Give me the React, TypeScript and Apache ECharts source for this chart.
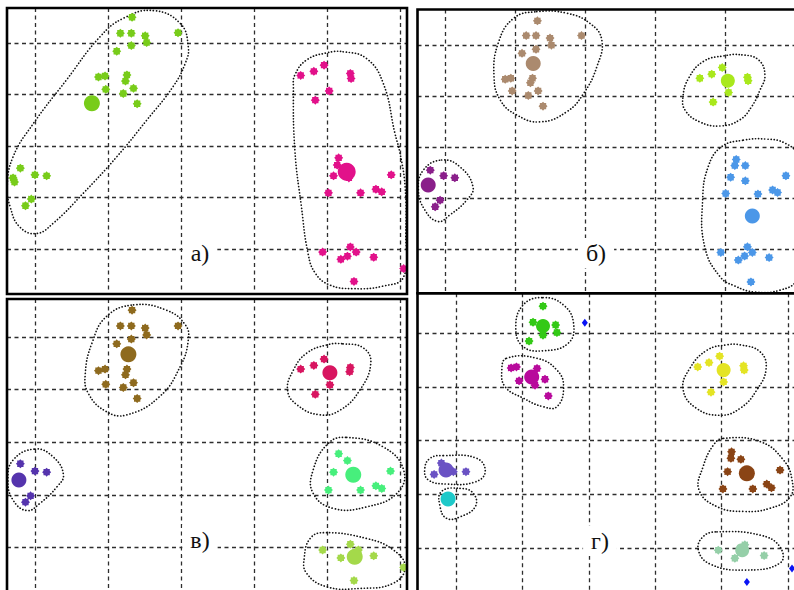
import React, { useEffect, useRef } from 'react';
import * as echarts from 'echarts';

// ---------- Panel а) ----------
const aGreen = [[1.32,-0.50],[1.16,-0.19],[1.31,-0.19],[1.50,-0.14],[1.52,-0.01],[1.95,-0.20],[1.31,0.05],[1.11,0.16],[0.86,0.66],[0.95,0.64],[1.25,0.62],[1.23,0.74],[0.96,0.90],[1.34,0.88],[1.20,0.98],[1.39,1.18],[-0.21,2.43],[-0.31,2.62],[-0.29,2.70],[-0.01,2.56],[0.15,2.58],[-0.06,3.03],[-0.14,3.16]];
const aGreenCentre = [[0.77,1.17]];
const aGreenHull = [[1.61,-0.63],[1.98,-0.38],[2.09,0.07],[2.05,0.39],[1.88,0.85],[1.52,1.50],[1.11,2.21],[0.65,2.92],[0.24,3.50],[0.01,3.70],[-0.22,3.57],[-0.35,3.18],[-0.39,2.79],[-0.31,2.21],[-0.03,1.56],[0.42,0.72],[0.88,-0.12],[1.20,-0.48]];
const aPink = [[3.63,0.63],[3.81,0.55],[3.95,0.43],[4.31,0.59],[4.32,0.69],[4.02,0.93],[3.83,1.11],[4.15,2.23],[4.13,2.37],[4.20,2.47],[4.29,2.62],[4.08,2.58],[4.87,2.56],[4.01,2.91],[4.45,2.91],[4.66,2.84],[4.74,2.89],[3.93,4.06],[4.31,3.96],[4.39,4.06],[4.27,4.14],[4.18,4.20],[4.63,4.16],[4.36,4.63],[5.04,4.38]];
const aPinkCentre = [[4.26,2.50]];
const aPinkHull = [[4.21,0.17],[4.53,0.30],[4.76,0.78],[4.92,1.75],[4.99,2.14],[5.06,2.79],[5.07,3.70],[5.04,4.54],[4.76,4.72],[4.35,4.77],[4.03,4.70],[3.83,4.47],[3.73,4.08],[3.64,3.18],[3.55,2.08],[3.53,0.85],[3.55,0.62],[3.71,0.33],[3.99,0.19]];

// ---------- Panel б) ----------
const bTan = [[1.32,-0.49],[1.16,-0.20],[1.30,-0.20],[1.50,-0.15],[1.52,-0.01],[1.95,-0.20],[1.30,0.07],[1.10,0.15],[0.86,0.66],[0.94,0.64],[1.25,0.64],[1.22,0.73],[0.96,0.89],[1.33,0.89],[1.19,0.98],[1.40,1.19]];
const bTanCentre = [[1.26,0.35]];
const bTanHull = [[1.31,-0.67],[1.74,-0.64],[2.07,-0.44],[2.24,-0.11],[2.17,0.41],[1.98,0.94],[1.74,1.30],[1.36,1.50],[1.02,1.36],[0.79,1.07],[0.70,0.61],[0.76,-0.05],[0.98,-0.54]];
const bLime = [[3.64,0.64],[3.81,0.56],[3.96,0.43],[4.05,0.92],[4.32,0.62],[4.33,0.69],[3.83,1.11]];
const bLimeCentre = [[4.04,0.69]];
const bLimeHull = [[4.24,0.18],[4.48,0.28],[4.57,0.58],[4.50,0.87],[4.38,1.20],[4.21,1.46],[3.93,1.58],[3.64,1.50],[3.43,1.27],[3.40,1.00],[3.48,0.64],[3.69,0.31],[3.98,0.20]];
const bPurple = [[-0.21,2.45],[-0.02,2.56],[0.14,2.60],[-0.07,3.04],[-0.14,3.17]];
const bPurpleCentre = [[-0.24,2.74]];
const bPurpleHull = [[-0.05,2.25],[0.21,2.38],[0.40,2.78],[0.31,3.04],[0.07,3.33],[-0.10,3.46],[-0.29,3.23],[-0.38,2.84],[-0.31,2.45]];
const bBlue = [[4.16,2.24],[4.14,2.36],[4.29,2.36],[4.08,2.59],[4.29,2.66],[4.87,2.56],[4.01,2.91],[4.47,2.92],[4.68,2.84],[4.75,2.89],[3.94,4.07],[4.32,3.96],[4.39,4.07],[4.28,4.14],[4.19,4.22],[4.63,4.17],[4.37,4.65]];
const bBlueCentre = [[4.39,3.35]];
const bBlueHull = [[4.26,1.86],[4.60,1.84],[4.86,1.92],[5.03,2.15],[5.14,3.04],[5.14,4.02],[5.03,4.61],[4.79,4.81],[4.43,4.85],[4.14,4.73],[3.93,4.55],[3.71,3.96],[3.68,3.04],[3.76,2.38],[3.95,1.99]];

// ---------- Panel в) ----------
const cBrown = [[1.32,-0.51],[1.16,-0.21],[1.31,-0.21],[1.50,-0.17],[1.52,-0.04],[1.95,-0.21],[1.31,0.04],[1.11,0.13],[0.86,0.64],[0.95,0.61],[1.25,0.61],[1.23,0.72],[0.96,0.90],[1.34,0.87],[1.20,0.96],[1.39,1.17]];
const cBrownCentre = [[1.27,0.33]];
const cBrownHull = [[1.34,-0.61],[1.79,-0.51],[2.05,-0.23],[2.09,0.06],[1.98,0.56],[1.70,1.13],[1.25,1.48],[0.97,1.42],[0.72,1.07],[0.68,0.69],[0.77,0.12],[0.97,-0.39]];
const cRed = [[3.63,0.61],[3.81,0.54],[3.95,0.42],[4.03,0.91],[4.31,0.58],[4.30,0.66],[3.83,1.09]];
const cRedCentre = [[4.03,0.68]];
const cRedHull = [[4.21,0.13],[4.49,0.21],[4.59,0.50],[4.44,1.01],[4.17,1.39],[3.89,1.48],[3.58,1.29],[3.45,1.01],[3.53,0.63],[3.71,0.31],[3.99,0.15]];
const cViolet = [[-0.21,2.41],[-0.01,2.55],[0.15,2.57],[-0.07,3.02],[-0.14,3.14]];
const cVioletCentre = [[-0.23,2.72]];
const cVioletHull = [[-0.01,2.13],[0.24,2.28],[0.38,2.62],[0.29,2.85],[0.06,3.16],[-0.12,3.30],[-0.31,3.10],[-0.38,2.72],[-0.31,2.34]];
const cMint = [[4.15,2.22],[4.27,2.35],[4.08,2.57],[4.86,2.55],[4.01,2.91],[4.45,2.91],[4.66,2.83],[4.74,2.88]];
const cMintCentre = [[4.35,2.62]];
const cMintHull = [[4.26,1.91],[4.76,2.09],[5.04,2.53],[4.95,2.97],[4.53,3.23],[4.08,3.26],[3.80,2.97],[3.80,2.53],[4.01,2.02]];
const cOlive = [[3.93,4.05],[4.31,3.94],[4.18,4.20],[4.63,4.16],[4.36,4.63],[5.04,4.38],[4.42,4.05]];
const cOliveCentre = [[4.37,4.18]];
const cOliveHull = [[3.94,3.72],[4.53,3.83],[4.90,4.05],[5.06,4.37],[4.90,4.68],[4.44,4.78],[3.99,4.75],[3.71,4.49],[3.68,4.18],[3.76,3.83]];

// ---------- Panel г) ----------
const dGreen = [[1.31,-0.50],[1.16,-0.20],[1.31,0.04],[1.50,-0.15],[1.52,-0.01],[1.10,0.15]];
const dGreenCentre = [[1.31,-0.13]];
const dGreenHull = [[1.31,-0.66],[1.62,-0.52],[1.77,-0.18],[1.69,0.19],[1.31,0.33],[1.01,0.25],[0.90,-0.09],[1.01,-0.52]];
const dOutliers = [[1.94,-0.19],[5.06,4.38],[4.38,4.63]];
const dMagenta = [[0.83,0.65],[0.91,0.63],[0.95,0.89],[1.22,0.66],[1.19,0.97],[1.34,0.86],[1.39,1.17]];
const dMagentaCentre = [[1.14,0.82]];
const dMagentaHull = [[0.76,0.47],[1.22,0.47],[1.52,0.69],[1.62,1.00],[1.52,1.37],[1.31,1.37],[1.01,1.21],[0.74,1.00],[0.69,0.69]];
const dYellow = [[3.64,0.63],[3.81,0.55],[3.97,0.43],[4.03,0.91],[4.33,0.61],[4.34,0.69],[3.84,1.10]];
const dYellowCentre = [[4.03,0.69]];
const dYellowHull = [[4.28,0.22],[4.58,0.35],[4.67,0.66],[4.53,1.06],[4.28,1.40],[3.98,1.53],[3.62,1.40],[3.42,1.05],[3.52,0.66],[3.78,0.32],[4.08,0.22]];
const dBrown = [[4.15,2.21],[4.14,2.33],[4.29,2.35],[4.09,2.58],[4.88,2.55],[4.02,2.90],[4.47,2.90],[4.68,2.81],[4.75,2.88]];
const dBrownCentre = [[4.38,2.61]];
const dBrownHull = [[4.03,1.96],[4.58,2.02],[4.93,2.36],[5.06,2.73],[5.03,3.05],[4.73,3.26],[4.33,3.32],[3.93,3.23],[3.66,2.92],[3.72,2.49],[3.88,2.08]];
const dSage = [[3.95,4.04],[4.20,4.19],[4.35,3.94],[4.64,4.14]];
const dSageCentre = [[4.31,4.04]];
const dSageHull = [[3.93,3.70],[4.58,3.76],[4.88,3.98],[4.88,4.28],[4.33,4.41],[3.83,4.30],[3.65,4.04],[3.72,3.79]];
const dIndigo = [[-0.33,2.63],[-0.22,2.42],[-0.04,2.58],[0.15,2.58]];
const dIndigoCentre = [[-0.15,2.55]];
const dIndigoHull = [[-0.19,2.28],[0.31,2.33],[0.44,2.58],[0.29,2.77],[-0.14,2.81],[-0.42,2.73],[-0.47,2.52],[-0.39,2.33]];
const dCyan: number[][] = [];
const dCyanCentre = [[-0.12,3.09]];
const dCyanHull = [[0.06,2.89],[0.26,2.98],[0.29,3.23],[0.06,3.42],[-0.14,3.45],[-0.24,3.23],[-0.22,2.95]];

const panelLabels = ['а)', 'б)', 'в)', 'г)'];

type Cluster = { pts: number[][]; centre: number[][]; hull: number[][]; color: string; size: number };

const PANELS = [
  {
    left: 7, top: 8, width: 400, height: 286, x: [-0.393, 5.086], y: [-0.68, 4.874], lx: 200, ly: 253,
    clusters: [
      { pts: aGreen, centre: aGreenCentre, hull: aGreenHull, color: '#78cc1a', size: 16 },
      { pts: aPink, centre: aPinkCentre, hull: aPinkHull, color: '#e2118a', size: 18 },
    ] as Cluster[],
  },
  {
    left: 417.5, top: 9.5, width: 400, height: 283.8, x: [-0.393, 5.321], y: [-0.713, 4.874], lx: 596, ly: 253,
    clusters: [
      { pts: bTan, centre: bTanCentre, hull: bTanHull, color: '#ab8a6e', size: 15 },
      { pts: bLime, centre: bLimeCentre, hull: bLimeHull, color: '#a9e81c', size: 14 },
      { pts: bPurple, centre: bPurpleCentre, hull: bPurpleHull, color: '#8a1f8a', size: 15 },
      { pts: bBlue, centre: bBlueCentre, hull: bBlueHull, color: '#4b97e8', size: 15 },
    ] as Cluster[],
  },
  {
    left: 7, top: 299, width: 400, height: 301, x: [-0.393, 5.086], y: [-0.722, 5.0], lx: 200, ly: 540,
    clusters: [
      { pts: cBrown, centre: cBrownCentre, hull: cBrownHull, color: '#8e6a1e', size: 16 },
      { pts: cRed, centre: cRedCentre, hull: cRedHull, color: '#d81560', size: 15 },
      { pts: cViolet, centre: cVioletCentre, hull: cVioletHull, color: '#5534ad', size: 15 },
      { pts: cMint, centre: cMintCentre, hull: cMintHull, color: '#47ef7c', size: 16 },
      { pts: cOlive, centre: cOliveCentre, hull: cOliveHull, color: '#a4d94a', size: 16 },
    ] as Cluster[],
  },
  {
    left: 417.5, top: 293.3, width: 400, height: 306.7, x: [-0.58, 5.444], y: [-0.739, 4.967], lx: 600, ly: 541,
    clusters: [
      { pts: dGreen, centre: dGreenCentre, hull: dGreenHull, color: '#33c916', size: 14 },
      { pts: dMagenta, centre: dMagentaCentre, hull: dMagentaHull, color: '#b80a9c', size: 15 },
      { pts: dYellow, centre: dYellowCentre, hull: dYellowHull, color: '#e4e424', size: 14 },
      { pts: dBrown, centre: dBrownCentre, hull: dBrownHull, color: '#8a4415', size: 16 },
      { pts: dSage, centre: dSageCentre, hull: dSageHull, color: '#95cfa8', size: 14 },
      { pts: dIndigo, centre: dIndigoCentre, hull: dIndigoHull, color: '#6a52c4', size: 15 },
      { pts: dCyan, centre: dCyanCentre, hull: dCyanHull, color: '#1ec9c9', size: 15 },
    ] as Cluster[],
  },
];

function starSymbol(spikes: number, outer: number, inner: number) {
  let d = '';
  for (let i = 0; i < spikes * 2; i++) {
    const r = i % 2 ? inner : outer;
    const a = (Math.PI * i) / spikes;
    d += (i ? 'L' : 'M') + (50 + r * Math.sin(a)).toFixed(2) + ' ' + (50 - r * Math.cos(a)).toFixed(2);
  }
  return 'path://' + d + 'Z';
}

const STAR = starSymbol(8, 50, 38);
const GRID_LINE = { color: '#2e2e2e', width: 1.3, type: [4, 3.5] as number[] };

export default function App() {
  const ref = useRef<HTMLDivElement>(null);
  useEffect(() => {
    const chart = echarts.init(ref.current as HTMLDivElement, null, { renderer: 'svg' });
    const series: any[] = [];
    PANELS.forEach((p, i) => {
      series.push({
        type: 'custom',
        coordinateSystem: 'cartesian2d',
        xAxisIndex: i,
        yAxisIndex: i,
        silent: true,
        z: 3,
        data: p.clusters.map((c, k) => [c.hull[0][0], c.hull[0][1], k]),
        renderItem: (params: any, api: any) => {
          const hull = p.clusters[params.dataIndex].hull;
          const pts = hull.map((h) => api.coord(h));
          return {
            type: 'polygon',
            shape: { points: pts, smooth: 0.45 },
            style: { fill: 'none', stroke: '#111', lineWidth: 1.7, lineDash: [0.1, 3], lineCap: 'round' },
          };
        },
      });
      p.clusters.forEach((c) => {
        if (c.pts.length) {
          series.push({
            type: 'scatter', xAxisIndex: i, yAxisIndex: i, symbol: STAR, symbolSize: 9,
            itemStyle: { color: c.color, opacity: 1 }, data: c.pts, silent: true, z: 4,
          });
        }
        series.push({
          type: 'scatter', xAxisIndex: i, yAxisIndex: i, symbol: 'circle', symbolSize: c.size,
          itemStyle: { color: c.color, opacity: 1 }, data: c.centre, silent: true, z: 5,
        });
      });
    });
    series.push({
      type: 'scatter', xAxisIndex: 3, yAxisIndex: 3, symbol: 'diamond', symbolSize: [6, 8],
      itemStyle: { color: '#0a14f5', opacity: 1 }, data: dOutliers, silent: true, z: 5,
    });

    const axisCommon = {
      type: 'value',
      minInterval: 1,
      maxInterval: 1,
      axisLine: { show: false },
      axisTick: { show: false },
      axisLabel: { show: false },
      splitLine: { show: true, showMinLine: false, showMaxLine: false, lineStyle: GRID_LINE },
    };

    const option: any = {
      animation: false,
      backgroundColor: '#ffffff',
      grid: PANELS.map((p) => ({
        left: p.left, top: p.top, width: p.width, height: p.height, show: false,
        containLabel: false, outerBoundsMode: 'none',
      })),
      xAxis: PANELS.map((p, i) => ({ ...axisCommon, gridIndex: i, min: p.x[0], max: p.x[1] })),
      yAxis: PANELS.map((p, i) => ({ ...axisCommon, gridIndex: i, min: p.y[0], max: p.y[1], inverse: true })),
      graphic: [
        ...PANELS.map((p) => ({
          type: 'rect', z: 100, silent: true,
          shape: { x: p.left, y: p.top, width: p.width, height: p.height },
          style: { fill: 'none', stroke: '#000', lineWidth: 2.6 },
        })),
        ...PANELS.map((p, i) => ({
          type: 'text', z: 50, silent: true, x: p.lx, y: p.ly,
          style: {
            text: panelLabels[i], fontFamily: 'Liberation Serif', fontSize: 24, fill: '#111',
            align: 'center', verticalAlign: 'middle', backgroundColor: '#ffffff', padding: [3, 8],
          },
        })),
      ],
      series,
    };
    chart.setOption(option);
    return () => chart.dispose();
  }, []);
  return (
    <div style={{ position: 'absolute', left: 0, top: 0, width: 794, height: 590, overflow: 'hidden', background: '#fff' }}>
      <div ref={ref} style={{ width: 830, height: 620 }} />
    </div>
  );
}
